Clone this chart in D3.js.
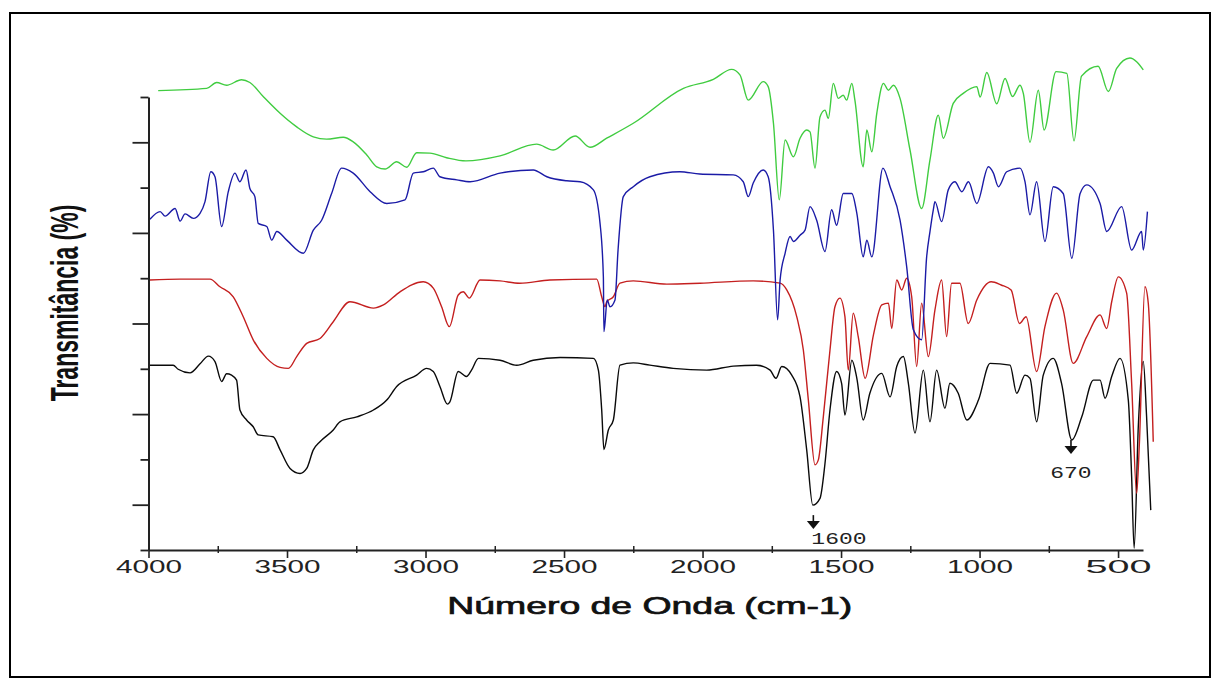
<!DOCTYPE html>
<html>
<head>
<meta charset="utf-8">
<script src="https://cdn.jsdelivr.net/npm/d3@7"></script>
<style>
  html, body { margin: 0; padding: 0; background: #fff; }
  svg { display: block; }
</style>
</head>
<body>
<svg id="chart" width="1220" height="684"></svg>
<script>
// FTIR spectra: wavenumber (cm-1) and stacked transmittance readings per sample
const greenWn = [3965,3790,3754,3718,3664,3634,3586,3525,3465,3405,3357,3297,3261,3212,3176,3146,3104,3068,3032,2984,2924,2854,2731,2599,2539,2460,2406,2346,2250,2069,1961,1895,1865,1835,1781,1763,1744,1723,1702,1672,1648,1624,1612,1594,1576,1558,1546,1528,1510,1492,1480,1461,1450,1420,1407,1389,1371,1347,1329,1311,1287,1251,1209,1179,1149,1131,1095,1059,1010,998,974,938,908,881,854,842,818,788,767,724,685,659,632,572,535,505,457,433,409];
const greenT = [101.4,101.9,103.2,102.6,103.8,103.2,100.1,96.4,93.4,91.2,90.7,91.1,90.1,87.2,84.6,84.1,85.7,84.5,87.7,87.6,86.6,85.9,87.0,89.6,88.3,91.4,88.9,90.9,94.2,101.9,103.9,106.1,104.9,99.3,103.4,102.3,94.2,77.3,90.5,86.8,90.9,92.7,92.3,84.3,95.6,97.1,95.3,103.0,99.7,100.4,99.3,103.0,99.3,84.6,92.7,87.9,96.4,103.0,101.5,102.6,99.7,88.3,75.4,86.1,96.0,90.9,98.6,100.8,102.3,100.0,105.4,98.5,104.1,100.1,102.6,100.8,90.0,101.5,92.7,105.6,105.2,90.3,104.6,106.8,101.2,106.3,108.6,107.8,106.0];

const blueWn = [3995,3958,3940,3904,3886,3868,3838,3814,3796,3775,3760,3736,3712,3688,3670,3648,3634,3616,3604,3573,3555,3537,3501,3441,3405,3375,3339,3303,3261,3200,3140,3074,3044,3008,2972,2948,2887,2839,2731,2611,2562,2490,2442,2394,2370,2358,2356,2344,2334,2316,2305,2286,2250,2190,2082,2010,1889,1853,1835,1817,1781,1763,1744,1729,1720,1702,1684,1672,1648,1630,1612,1588,1558,1534,1516,1492,1461,1443,1420,1407,1389,1349,1323,1287,1263,1239,1209,1191,1179,1167,1161,1137,1113,1089,1064,1040,1010,968,950,932,902,854,836,818,794,764,734,698,667,637,613,565,541,487,451,415,409,394];
const blueT = [73.0,74.7,73.7,75.4,72.6,74.2,73.2,74.3,76.9,83.5,82.4,71.4,79.1,83.2,81.3,83.9,79.8,78.0,72.1,71.4,68.4,70.3,68.4,65.5,70.6,72.8,78.7,84.3,83.2,79.1,76.5,77.3,83.2,83.5,84.3,82.4,81.7,81.3,83.2,83.9,82.4,81.5,81.3,79.5,72.1,60.3,48.2,55.2,53.7,55.2,66.2,78.0,80.2,82.4,83.5,83.0,82.8,81.3,78.0,81.0,83.9,82.4,70.6,50.8,59.6,65.5,69.2,68.1,69.5,70.6,75.8,72.8,65.9,75.1,71.7,78.7,78.7,74.3,64.7,68.4,64.7,84.3,80.2,72.8,62.5,48.6,46.4,64.7,70.3,75.1,76.9,72.5,79.5,81.3,79.1,81.3,76.5,84.6,83.2,80.2,83.5,84.3,81.3,74.0,81.3,68.1,80.2,78.7,64.4,78.7,80.6,76.5,70.3,75.8,66.2,70.3,66.2,74.7];

const redWn = [3995,3886,3778,3742,3694,3658,3622,3573,3525,3495,3465,3429,3381,3333,3273,3188,3152,3092,3008,2972,2942,2914,2882,2864,2842,2803,2731,2660,2551,2382,2364,2352,2346,2322,2298,2250,2129,2009,1817,1720,1696,1660,1636,1618,1594,1582,1564,1540,1522,1504,1486,1474,1456,1438,1413,1383,1353,1329,1317,1299,1281,1263,1245,1227,1209,1185,1161,1137,1119,1101,1071,1041,1010,958,922,886,856,832,794,764,722,698,662,613,565,541,523,499,469,451,433,423,403,391,373];
const redT = [59.6,59.8,59.8,58.1,55.9,51.5,46.4,42.3,40.3,40.1,42.7,45.6,46.7,50.4,54.8,53.4,54.1,57.0,59.2,57.8,53.7,49.3,56.3,57.0,55.6,59.6,59.4,58.9,59.6,59.8,55.9,53.7,54.8,55.9,58.9,59.4,58.7,58.9,59.4,58.9,57.4,51.5,44.1,33.1,18.8,19.9,29.4,44.1,53.7,55.6,51.5,39.7,52.3,47.1,37.9,47.5,54.1,54.5,48.9,59.6,57.4,60.0,55.9,40.5,54.5,42.7,53.0,59.6,47.1,58.9,58.9,50.0,55.2,59.2,58.5,57.4,50.0,51.5,39.4,49.3,56.7,53.0,41.2,47.1,51.9,48.9,54.8,60.3,56.7,36.8,12.5,23.6,58.1,54.5,23.9];

const blackWn = [3995,3911,3893,3850,3814,3784,3760,3736,3718,3700,3682,3670,3646,3622,3604,3550,3525,3489,3453,3429,3405,3381,3333,3309,3248,3188,3140,3104,3032,2996,2972,2948,2921,2912,2882,2852,2834,2809,2731,2671,2611,2514,2394,2376,2364,2356,2340,2322,2298,2250,2190,2106,1985,1889,1805,1756,1735,1714,1678,1648,1624,1602,1576,1558,1540,1516,1498,1486,1461,1443,1420,1396,1353,1323,1299,1275,1257,1233,1203,1179,1155,1125,1107,1077,1046,1004,962,890,866,836,818,794,770,734,704,667,631,589,565,547,523,493,463,451,442,427,409,397,382];
const blackT = [40.8,40.8,39.9,39.1,41.1,42.8,41.6,37.2,38.9,38.6,37.5,30.9,28.7,27.2,25.4,25.0,22.1,18.0,16.9,18.0,22.1,23.9,26.5,28.3,29.4,30.9,33.1,36.1,38.6,40.1,39.4,36.1,32.2,32.7,39.4,38.3,39.7,42.3,41.9,40.8,41.9,42.5,42.3,39.7,30.9,22.2,26.5,28.7,40.8,41.3,40.8,40.1,39.7,40.6,40.8,39.7,37.9,40.5,38.6,33.8,22.1,9.9,11.4,19.1,30.9,39.4,36.8,29.8,41.9,37.9,28.7,34.6,39.0,33.8,40.5,42.7,36.8,25.8,39.7,28.3,39.7,31.3,36.8,34.6,28.7,33.1,41.2,40.8,34.6,38.6,37.9,28.3,38.6,42.3,36.8,24.3,29.4,37.5,37.5,33.5,38.3,42.3,33.1,16.2,0.4,27.2,41.6,29.4,8.8];

// Axis ticks
const xMajorTicks = [4000,3500,3000,2500,2000,1500,1000,500];
const xMinorTicks = [3750,3250,2750,2250,1750,1250,750];
const yTicks = [0,10,20,30,40,50,60,70,80,90,100];

// Marked bands: wavenumber, label, transmittance where the arrow starts
const markWn = [1600, 670];
const markLabel = ["1600", "670"];
const markT = [7.7, 24.3];

const svg = d3.select("#chart");

// Frame around the figure
svg.append("rect")
  .attr("x", 10).attr("y", 13).attr("width", 1200).attr("height", 664)
  .attr("fill", "none").attr("stroke", "#000").attr("stroke-width", 2);

const x = d3.scaleLinear().domain([4000, 410]).range([148.5, 1143]);
const y = d3.scaleLinear().domain([0, 100]).range([550, 97]);

const line = d3.line()
  .x(d => x(d[0]))
  .y(d => y(d[1]))
  .curve(d3.curveMonotoneX);

const spectra = [
  { wn: blackWn, t: blackT, color: "#0a0a0a" },
  { wn: redWn,   t: redT,   color: "#c41f1f" },
  { wn: blueWn,  t: blueT,  color: "#1b1ba6" },
  { wn: greenWn, t: greenT, color: "#40cc40" }
];

spectra.forEach(s => {
  svg.append("path")
    .datum(d3.zip(s.wn, s.t))
    .attr("d", line)
    .attr("fill", "none")
    .attr("stroke", s.color)
    .attr("stroke-width", 1.4)
    .attr("stroke-linejoin", "round");
});

// X axis with major ticks and labels
const axisColor = "#222";
const gx = svg.append("g")
  .attr("transform", `translate(0,${y(0)})`)
  .call(d3.axisBottom(x).tickValues(xMajorTicks).tickFormat(d3.format("d")).tickSize(8).tickSizeOuter(0));
gx.select(".domain").attr("stroke", axisColor).attr("stroke-width", 1.8);
gx.selectAll(".tick line").attr("stroke", axisColor).attr("stroke-width", 1.6);
gx.selectAll(".tick text")
  .attr("font-family", "'Liberation Sans', Arial, sans-serif")
  .attr("font-size", 19)
  .attr("fill", axisColor)
  .attr("y", 10)
  .attr("textLength", 66)
  .attr("lengthAdjust", "spacingAndGlyphs");

// Minor ticks crossing the x axis
const gxm = svg.append("g")
  .attr("transform", `translate(0,${y(0)})`)
  .call(d3.axisBottom(x).tickValues(xMinorTicks).tickFormat("").tickSize(3).tickSizeOuter(0));
gxm.select(".domain").remove();
gxm.selectAll(".tick line").attr("y1", -4).attr("stroke", axisColor).attr("stroke-width", 1.5);

// Y axis: unlabeled ticks, alternating long and short
const gy = svg.append("g")
  .attr("transform", `translate(${x(4000)},0)`)
  .call(d3.axisLeft(y).tickValues(yTicks).tickFormat("").tickSizeOuter(0));
gy.select(".domain").attr("stroke", axisColor).attr("stroke-width", 2);
gy.selectAll(".tick line")
  .attr("x2", d => (d / 10) % 2 === 1 ? -16 : -8)
  .attr("stroke", axisColor).attr("stroke-width", 1.8);

// Axis titles
svg.append("text")
  .attr("x", (x(4000) + x(410)) / 2 + 4)
  .attr("y", 614)
  .attr("text-anchor", "middle")
  .attr("font-family", "'Liberation Sans', Arial, sans-serif")
  .attr("font-size", 24)
  .attr("fill", "#111")
  .attr("stroke", "#111")
  .attr("stroke-width", 0.7)
  .attr("textLength", 405)
  .attr("lengthAdjust", "spacingAndGlyphs")
  .text("Número de Onda (cm-1)");

svg.append("text")
  .attr("transform", "translate(78,303) scale(1.65,1) rotate(-90)")
  .attr("text-anchor", "middle")
  .attr("font-family", "'Liberation Sans', Arial, sans-serif")
  .attr("font-weight", "bold")
  .attr("font-size", 23)
  .attr("fill", "#111")
  .text("Transmitância (%)");

// Band markers: downward arrows with wavenumber labels
const markLayout = [
  { anchor: "start",  dx: -2, dy: 15 },
  { anchor: "middle", dx: 0,  dy: 24 }
];
markWn.forEach((wn, i) => {
  const ax = x(wn);
  const top = y(markT[i]);
  const tip = top + 14;
  const g = svg.append("g");
  g.append("line")
    .attr("x1", ax).attr("x2", ax).attr("y1", top).attr("y2", tip - 5)
    .attr("stroke", "#111").attr("stroke-width", 1.6);
  g.append("path")
    .attr("d", `M${ax - 6.5},${tip - 8}L${ax + 6.5},${tip - 8}L${ax},${tip}Z`)
    .attr("fill", "#111");
  g.append("text")
    .attr("x", ax + markLayout[i].dx)
    .attr("y", tip + markLayout[i].dy)
    .attr("text-anchor", markLayout[i].anchor)
    .attr("font-family", "'Liberation Mono', 'DejaVu Sans Mono', monospace")
    .attr("font-size", 17)
    .attr("fill", "#222")
    .attr("textLength", markLabel[i].length * 13.8)
    .attr("lengthAdjust", "spacingAndGlyphs")
    .text(markLabel[i]);
});
</script>
</body>
</html>
